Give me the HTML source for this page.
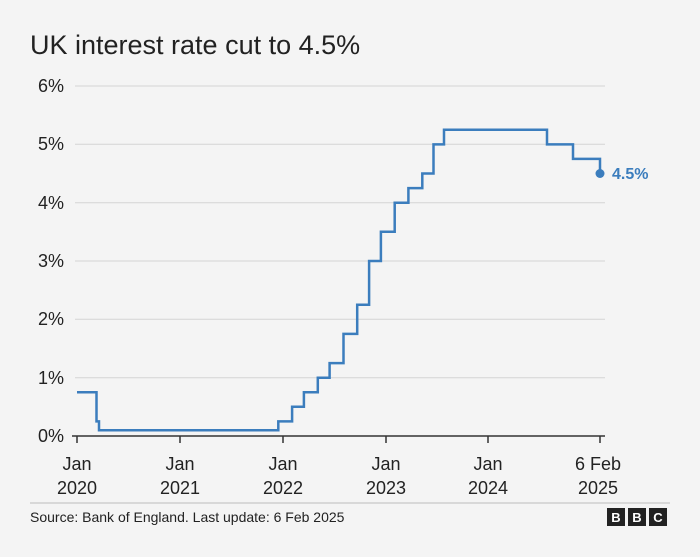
<!DOCTYPE html>
<html><head><meta charset="utf-8"><style>
body{margin:0;background:#f4f4f4;width:700px;height:552px;overflow:hidden;font-family:"Liberation Sans",sans-serif;}
</style></head><body>
<svg width="700" height="552" xmlns="http://www.w3.org/2000/svg" font-family="Liberation Sans, sans-serif">
<rect width="700" height="552" fill="#f4f4f4"/>
<text x="30" y="54" font-size="27" fill="#222">UK interest rate cut to 4.5%</text>
<g stroke="#d4d4d4" stroke-width="1">
<line x1="75" y1="86" x2="605" y2="86"/><line x1="75" y1="144.3" x2="605" y2="144.3"/>
<line x1="75" y1="202.7" x2="605" y2="202.7"/><line x1="75" y1="261" x2="605" y2="261"/>
<line x1="75" y1="319.3" x2="605" y2="319.3"/><line x1="75" y1="377.7" x2="605" y2="377.7"/>
</g>
<line x1="72" y1="436" x2="605" y2="436" stroke="#333" stroke-width="1.5"/>
<g stroke="#333" stroke-width="1.5">
<line x1="77" y1="436" x2="77" y2="443"/><line x1="180" y1="436" x2="180" y2="443"/>
<line x1="283" y1="436" x2="283" y2="443"/><line x1="386" y1="436" x2="386" y2="443"/>
<line x1="488" y1="436" x2="488" y2="443"/><line x1="600" y1="436" x2="600" y2="443"/>
</g>
<g font-size="18" fill="#222" text-anchor="end">
<text x="64" y="92">6%</text><text x="64" y="150">5%</text><text x="64" y="209">4%</text>
<text x="64" y="267">3%</text><text x="64" y="325">2%</text><text x="64" y="384">1%</text>
<text x="64" y="442">0%</text>
</g>
<g font-size="18" fill="#222" text-anchor="middle">
<text x="77" y="470">Jan</text><text x="77" y="494">2020</text>
<text x="180" y="470">Jan</text><text x="180" y="494">2021</text>
<text x="283" y="470">Jan</text><text x="283" y="494">2022</text>
<text x="386" y="470">Jan</text><text x="386" y="494">2023</text>
<text x="488" y="470">Jan</text><text x="488" y="494">2024</text>
<text x="598" y="470">6 Feb</text><text x="598" y="494">2025</text>
</g>
<polyline fill="none" stroke="#3b7dbd" stroke-width="2.5" stroke-linejoin="miter" points="77,392.3 96.5,392.3 96.5,421.4 99,421.4 99,430.2 278.3,430.2 278.3,421.4 292.1,421.4 292.1,406.8 303.9,406.8 303.9,392.3 317.8,392.3 317.8,377.7 329.6,377.7 329.6,363.1 343.5,363.1 343.5,333.9 357.2,333.9 357.2,304.8 369.1,304.8 369.1,261 380.9,261 380.9,231.8 394.7,231.8 394.7,202.7 408.4,202.7 408.4,188.1 422.3,188.1 422.3,173.5 433.5,173.5 433.5,144.4 444,144.4 444,129.8 547,129.8 547,144.4 573,144.4 573,158.9 600,158.9 600,173.5"/>
<circle cx="600" cy="173.5" r="4.5" fill="#3b7dbd"/>
<text x="612" y="179" font-size="16" font-weight="bold" fill="#3b7dbd">4.5%</text>
<line x1="30" y1="503" x2="670" y2="503" stroke="#bbb" stroke-width="1"/>
<text x="30" y="522" font-size="14" fill="#222">Source: Bank of England. Last update: 6 Feb 2025</text>
<g font-size="13" font-weight="bold" fill="#fff" text-anchor="middle">
<rect x="607" y="508" width="18" height="18" fill="#222"/><text x="616" y="522">B</text>
<rect x="628" y="508" width="18" height="18" fill="#222"/><text x="637" y="522">B</text>
<rect x="649" y="508" width="18" height="18" fill="#222"/><text x="658" y="522">C</text>
</g>
</svg>
</body></html>
